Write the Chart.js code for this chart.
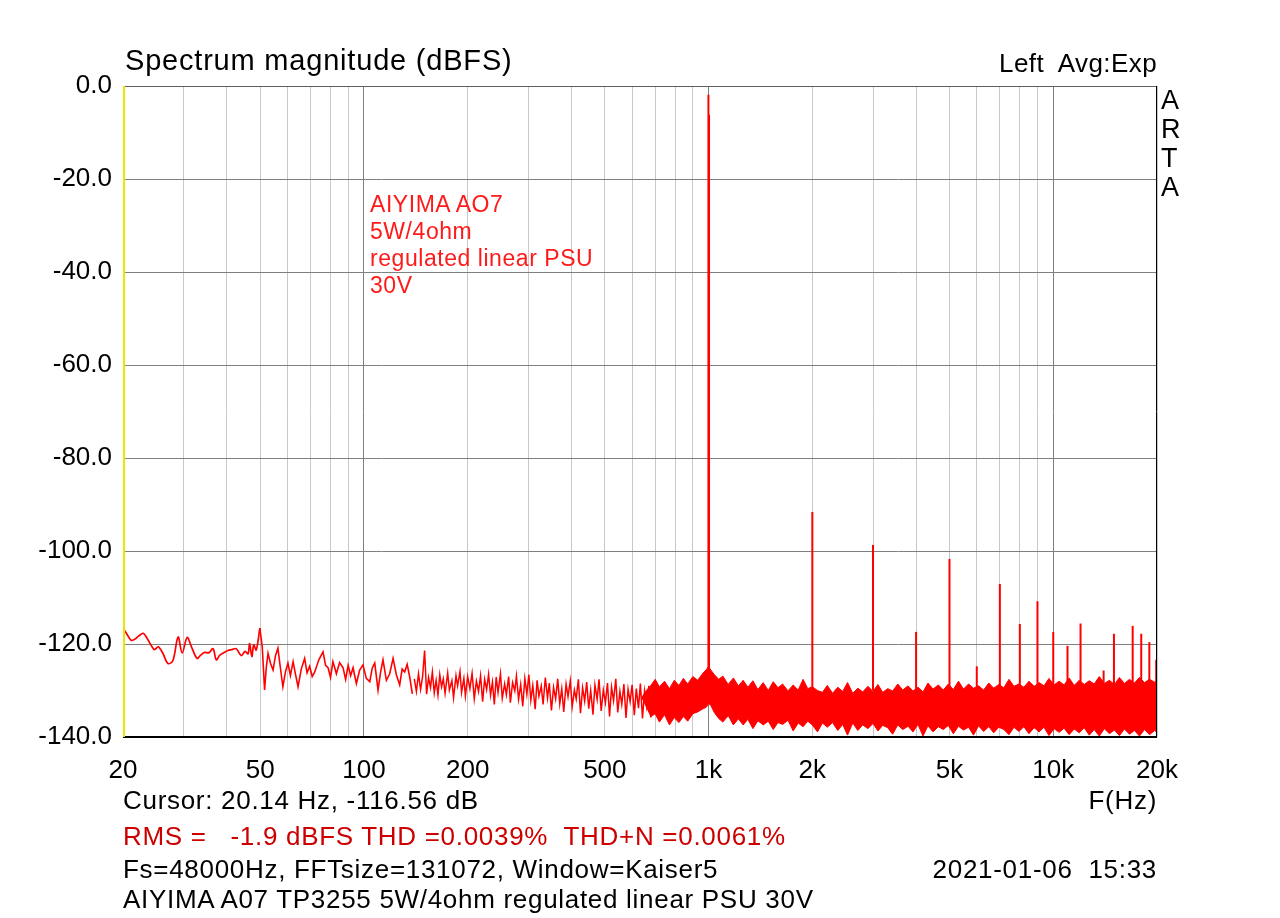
<!DOCTYPE html>
<html><head><meta charset="utf-8">
<script src="https://cdn.jsdelivr.net/npm/chart.js@4.4.1/dist/chart.umd.min.js"></script>
<style>
html,body{margin:0;padding:0;background:#fff;overflow:hidden}
#wrap{position:relative;width:1280px;height:918px}
canvas{position:absolute;left:0;top:0}
.t{position:absolute;font-family:"Liberation Sans",Arial,sans-serif;white-space:pre;color:#000;line-height:1}
</style></head><body>
<div id="wrap">
<canvas id="c" width="1280" height="918"></canvas>
<div class="t" style="left:125px;top:46px;font-size:29px;letter-spacing:0.8px">Spectrum magnitude (dBFS)</div>
<div class="t" style="right:123px;top:50px;font-size:26px;letter-spacing:0.4px">Left  Avg:Exp</div>
<div class="t" style="left:1161px;top:86px;font-size:27px;line-height:29px">A
R
T
A</div>
<div class="t" style="left:370px;top:191px;font-size:23px;line-height:27px;color:#ff1a1a;letter-spacing:0.55px">AIYIMA AO7
5W/4ohm
regulated linear PSU
30V</div>
<div class="t" style="left:123px;top:787px;font-size:26px;letter-spacing:0.7px">Cursor: 20.14 Hz, -116.56 dB</div>
<div class="t" style="right:123px;top:787px;font-size:26px;letter-spacing:0.7px">F(Hz)</div>
<div class="t" style="left:123px;top:823px;font-size:26px;letter-spacing:0.7px;color:#cc0000">RMS =   -1.9 dBFS THD =0.0039%  THD+N =0.0061%</div>
<div class="t" style="left:123px;top:856px;font-size:26px;letter-spacing:0.7px">Fs=48000Hz, FFTsize=131072, Window=Kaiser5</div>
<div class="t" style="right:123px;top:856px;font-size:26px;letter-spacing:0.7px">2021-01-06  15:33</div>
<div class="t" style="left:123px;top:886px;font-size:26px;letter-spacing:0.7px">AIYIMA A07 TP3255 5W/4ohm regulated linear PSU 30V</div>
</div>
<script>
// ---- data ----
const xTickLabels = {20:'20',50:'50',100:'100',200:'200',500:'500',1000:'1k',2000:'2k',5000:'5k',10000:'10k',20000:'20k'};
const gridFreqs = [20,30,40,50,60,70,80,90,100,200,300,400,500,600,700,800,900,1000,2000,3000,4000,5000,6000,7000,8000,9000,10000,20000];
const decadeFreqs = [100,1000,10000];
const yTicks = [0,-20,-40,-60,-80,-100,-120,-140];

// low-frequency trace 20..50 Hz
const lowFreq = [20,20.5,21.1,21.6,22.2,22.9,23.5,24.2,24.7,25.3,26.1,27.0,27.9,28.9,29.7,30.7,31.6,32.8,33.6,34.5,35.5,36.5,37.3,38.2,39.2,40.3,41.4,42.6,44.1,45.2,46.1,46.6,47.3,47.9,48.7,49.9];
const lowDb  = [-116.6,-117.8,-119.2,-119.0,-118.3,-117.7,-118.8,-120.4,-121.2,-120.6,-122.0,-124.2,-123.6,-118.5,-121.9,-118.6,-120.6,-123.1,-122.4,-121.8,-121.9,-121.0,-123.4,-122.4,-121.9,-121.4,-121.2,-121.0,-122.5,-121.6,-122.1,-119.9,-122.7,-120.2,-121.3,-116.6];

// 50..140 Hz trace
const midFreq = [49.9,50.7,51.5,52.1,52.7,53.6,54.5,55.4,56.3,57.2,58.2,59.2,60.2,61.2,62.3,63.3,64.4,65.8,67.3,68.4,69.6,70.8,72.0,74.0,76.1,77.4,78.7,80.0,81.3,82.2,83.2,85.0,87.0,88.5,90.0,91.5,93.0,95.1,97.2,99.4,101.6,104,105.7,107.5,109.9,111.7,113.6,116.2,118.8,121.5,124.2,127,129.1,131.3,133.5,135.8,138.2];
const midDb  = [-116.6,-120.6,-129.9,-125.0,-122.0,-124.2,-125.6,-122.5,-120.9,-125.0,-129.2,-126.0,-124.1,-126.8,-123.8,-126.5,-129.2,-125.4,-123.1,-126.2,-124.8,-127.0,-126.0,-123.4,-121.7,-124.6,-125.1,-127.2,-123.8,-125.0,-126.4,-124.0,-125.1,-127.6,-124.6,-126.8,-125.1,-128.5,-125.6,-124.5,-127.4,-128.1,-125.2,-124.1,-129.9,-126.2,-123.4,-127.8,-126.4,-123.1,-126.6,-128.8,-125.4,-126.0,-124.4,-127.1,-130.7];

// 140..690 Hz trace
const hfFreq = [140,142,144,146,148,150,152,154,156,158,160,162,164,166,168,170,172,175,177,180,182,185,187,190,192,195,197,200,203,206,209,212,215,218,221,224,227,230,233,236,239,242,245,249,252,256,259,263,266,270,274,277,281,285,289,293,297,301,305,309,314,318,322,327,331,336,341,345,350,355,360,365,370,375,380,386,391,397,402,408,413,419,425,431,437,443,449,455,462,468,475,481,488,495,502,509,516,523,530,538,545,553,560,568,576,584,592,600,609,617,626,634,643,652,661,671,680,690];
const hfDb = [-127.5,-130.2,-126.4,-129.8,-127.0,-121.4,-130.8,-127.2,-129.4,-126.0,-130.5,-127.8,-131.0,-126.6,-129.2,-127.5,-130.6,-126.2,-129.9,-127.9,-131.6,-126.8,-129.0,-125.9,-130.4,-127.4,-131.2,-127.0,-129.6,-126.3,-131.8,-128.0,-130.2,-126.8,-132.4,-127.6,-129.8,-126.5,-131.0,-128.2,-133.0,-127.1,-130.4,-126.4,-131.7,-128.6,-130.9,-127.0,-132.6,-128.3,-130.1,-126.9,-131.9,-128.7,-133.4,-127.4,-130.8,-126.6,-132.1,-128.9,-134.0,-127.8,-131.2,-129.0,-133.0,-127.2,-131.6,-128.4,-134.3,-129.3,-131.8,-127.5,-132.9,-129.6,-134.6,-128.6,-131.3,-127.9,-133.5,-129.9,-131.8,-127.6,-134.9,-129.4,-132.3,-128.2,-133.9,-130.0,-135.2,-128.8,-131.9,-127.6,-134.4,-129.9,-132.6,-128.4,-135.6,-129.3,-132.2,-127.5,-134.7,-130.2,-133.0,-128.6,-135.9,-129.7,-132.4,-128.8,-135.3,-129.6,-133.8,-128.5,-136.0,-130.1,-133.4,-129.0,-135.8,-130.4];

// dense noise band 640 Hz..20 kHz : upper and lower edges
const bandFreq = [640,660,680,700,720,745,770,795,820,845,870,900,930,960,985,1000,1015,1040,1070,1100,1140,1180,1220,1260,1300,1345,1390,1440,1490,1540,1590,1640,1700,1760,1820,1880,1940,2000,2070,2140,2210,2290,2370,2450,2530,2620,2710,2800,2900,3000,3100,3200,3310,3420,3540,3660,3790,3920,4050,4190,4330,4480,4640,4800,4960,5130,5310,5490,5680,5870,6070,6280,6500,6720,6950,7190,7440,7690,7950,8220,8500,8800,9100,9400,9720,10050,10400,10750,11120,11500,11900,12300,12720,13150,13600,14070,14550,15050,15560,16090,16640,17200,17790,18400,19030,19680,20000];
const bandHi = [-131.5,-130.0,-128.9,-127.6,-129.2,-128.0,-129.6,-127.8,-128.9,-127.4,-128.6,-127.0,-127.8,-126.4,-125.5,-124.8,-125.6,-126.6,-127.6,-126.9,-128.7,-127.3,-129.0,-127.8,-129.3,-127.9,-129.8,-128.3,-130.0,-128.1,-129.4,-128.6,-130.1,-128.8,-129.9,-127.6,-129.6,-129.2,-130.0,-130.4,-128.9,-130.6,-129.3,-130.2,-128.3,-130.6,-129.5,-130.3,-129.1,-130.2,-128.7,-130.4,-129.6,-130.1,-128.6,-129.9,-129.0,-130.1,-129.3,-130.3,-128.4,-129.7,-128.8,-129.9,-128.6,-129.8,-128.0,-129.7,-128.6,-129.5,-129.0,-129.9,-128.4,-129.5,-128.7,-129.4,-127.6,-129.1,-128.6,-129.3,-128.0,-129.1,-128.3,-129.0,-127.4,-128.8,-128.0,-128.8,-127.3,-128.9,-127.8,-128.7,-127.9,-128.6,-127.0,-128.5,-127.8,-128.7,-127.2,-128.5,-127.6,-128.4,-127.2,-128.3,-127.6,-128.2,-127.8];
const bandLo = [-131.5,-133.5,-135.6,-135.0,-136.8,-135.2,-137.4,-135.8,-136.9,-135.6,-136.6,-135.0,-134.6,-134.0,-133.6,-132.8,-133.2,-134.8,-136.0,-136.8,-135.4,-137.4,-136.1,-137.4,-136.2,-138.2,-136.5,-137.4,-136.6,-138.4,-136.9,-137.3,-136.4,-138.7,-137.0,-137.8,-136.6,-137.4,-138.9,-137.0,-137.9,-136.9,-138.6,-137.3,-139.6,-137.0,-138.6,-137.4,-138.2,-137.1,-138.7,-137.5,-138.0,-139.4,-137.4,-138.4,-137.7,-138.9,-137.3,-139.8,-137.6,-138.9,-137.8,-138.4,-137.5,-139.3,-137.7,-138.5,-137.9,-139.6,-137.6,-138.8,-137.8,-139.1,-137.9,-138.4,-139.5,-137.9,-138.8,-137.8,-139.3,-138.0,-138.9,-137.9,-139.7,-138.2,-139.0,-138.1,-139.5,-138.3,-139.1,-138.0,-139.6,-138.4,-139.8,-138.2,-139.3,-138.5,-139.7,-138.3,-139.4,-138.6,-139.8,-138.4,-139.5,-138.6,-139.0];

// discrete spectral lines (fundamental + harmonics)
const lineFreq = [999,1003,2000,3000,4000,5000,6000,7000,8000,9000,10000,11000,12000,14000,15000,17000,18000,19000,19900];
const lineDb   = [-1.9,-6.2,-91.6,-98.7,-117.4,-101.7,-124.8,-107.1,-115.7,-110.8,-117.4,-120.4,-115.6,-125.7,-117.8,-116.1,-117.8,-119.6,-123.4];
const lineFloor = -130;

const cursorFreq = 20.14;
// ---------------------------------------

const RED = '#ff0000';
const FONT = "'Liberation Sans', Arial, sans-serif";
const pts = (fs, vs) => fs.map((f, i) => ({x: f, y: vs[i]}));

const datasets = [
  {data: pts(lowFreq, lowDb), borderColor: RED, borderWidth: 1.7, tension: 0.35, pointRadius: 0, showLine: true, fill: false},
  {data: pts(midFreq, midDb), borderColor: RED, borderWidth: 1.6, tension: 0, pointRadius: 0, showLine: true, fill: false},
  {data: pts(hfFreq, hfDb), borderColor: RED, borderWidth: 1.5, tension: 0, pointRadius: 0, showLine: true, fill: false},
  {data: pts(bandFreq, bandHi), borderColor: RED, borderWidth: 1, pointRadius: 0, showLine: true, fill: {target: '+1'}, backgroundColor: RED},
  {data: pts(bandFreq, bandLo), borderColor: RED, borderWidth: 1, pointRadius: 0, showLine: true, fill: false},
];
lineFreq.forEach((f, i) => {
  datasets.push({data: [{x: f, y: lineFloor}, {x: f, y: lineDb[i]}], borderColor: RED, borderWidth: 2, pointRadius: 0, showLine: true, fill: false});
});

const framePlugin = {
  id: 'frame',
  afterDraw(chart) {
    const {ctx, chartArea: a, scales} = chart;
    ctx.save();
    ctx.lineWidth = 1;
    ctx.strokeStyle = '#606060';
    ctx.beginPath(); ctx.moveTo(a.left, a.top + 0.5); ctx.lineTo(a.right, a.top + 0.5); ctx.stroke();
    ctx.strokeStyle = '#000';
    ctx.beginPath(); ctx.moveTo(a.right - 0.5, a.top); ctx.lineTo(a.right - 0.5, a.bottom); ctx.stroke();
    ctx.lineWidth = 2;
    ctx.beginPath(); ctx.moveTo(a.left, a.bottom); ctx.lineTo(a.right, a.bottom); ctx.stroke();
    const cx = scales.x.getPixelForValue(cursorFreq);
    ctx.strokeStyle = '#e8e800';
    ctx.lineWidth = 2;
    ctx.beginPath(); ctx.moveTo(cx, a.top); ctx.lineTo(cx, a.bottom); ctx.stroke();
    ctx.restore();
  }
};

new Chart(document.getElementById('c'), {
  type: 'scatter',
  data: {datasets},
  plugins: [framePlugin],
  options: {
    responsive: false,
    animation: false,
    events: [],
    layout: {padding: {left: 0, top: 86, right: 123, bottom: 131}},
    plugins: {legend: {display: false}, tooltip: {enabled: false}, title: {display: false}},
    scales: {
      x: {
        type: 'logarithmic', min: 20, max: 20000,
        afterBuildTicks: s => { s.ticks = gridFreqs.map(v => ({value: v})); },
        afterFit: s => { s.height = 50; },
        ticks: {autoSkip: false, maxRotation: 0, minRotation: 0, padding: 18, color: '#000',
          font: {family: FONT, size: 26},
          callback: v => (xTickLabels[v] !== undefined ? xTickLabels[v] : '')},
        grid: {drawTicks: false, lineWidth: 1,
          color: c => (c.tick && decadeFreqs.includes(c.tick.value)) ? '#808080' : '#c8c8c8'},
        border: {display: false}
      },
      y: {
        type: 'linear', min: -140, max: 0,
        afterBuildTicks: s => { s.ticks = yTicks.map(v => ({value: v})); },
        afterFit: s => { s.width = 123; },
        ticks: {padding: 11, color: '#000', font: {family: FONT, size: 26},
          callback: v => Number(v).toFixed(1)},
        grid: {drawTicks: false, lineWidth: 1, color: '#808080'},
        border: {display: false}
      }
    }
  }
});
</script>
</body></html>
